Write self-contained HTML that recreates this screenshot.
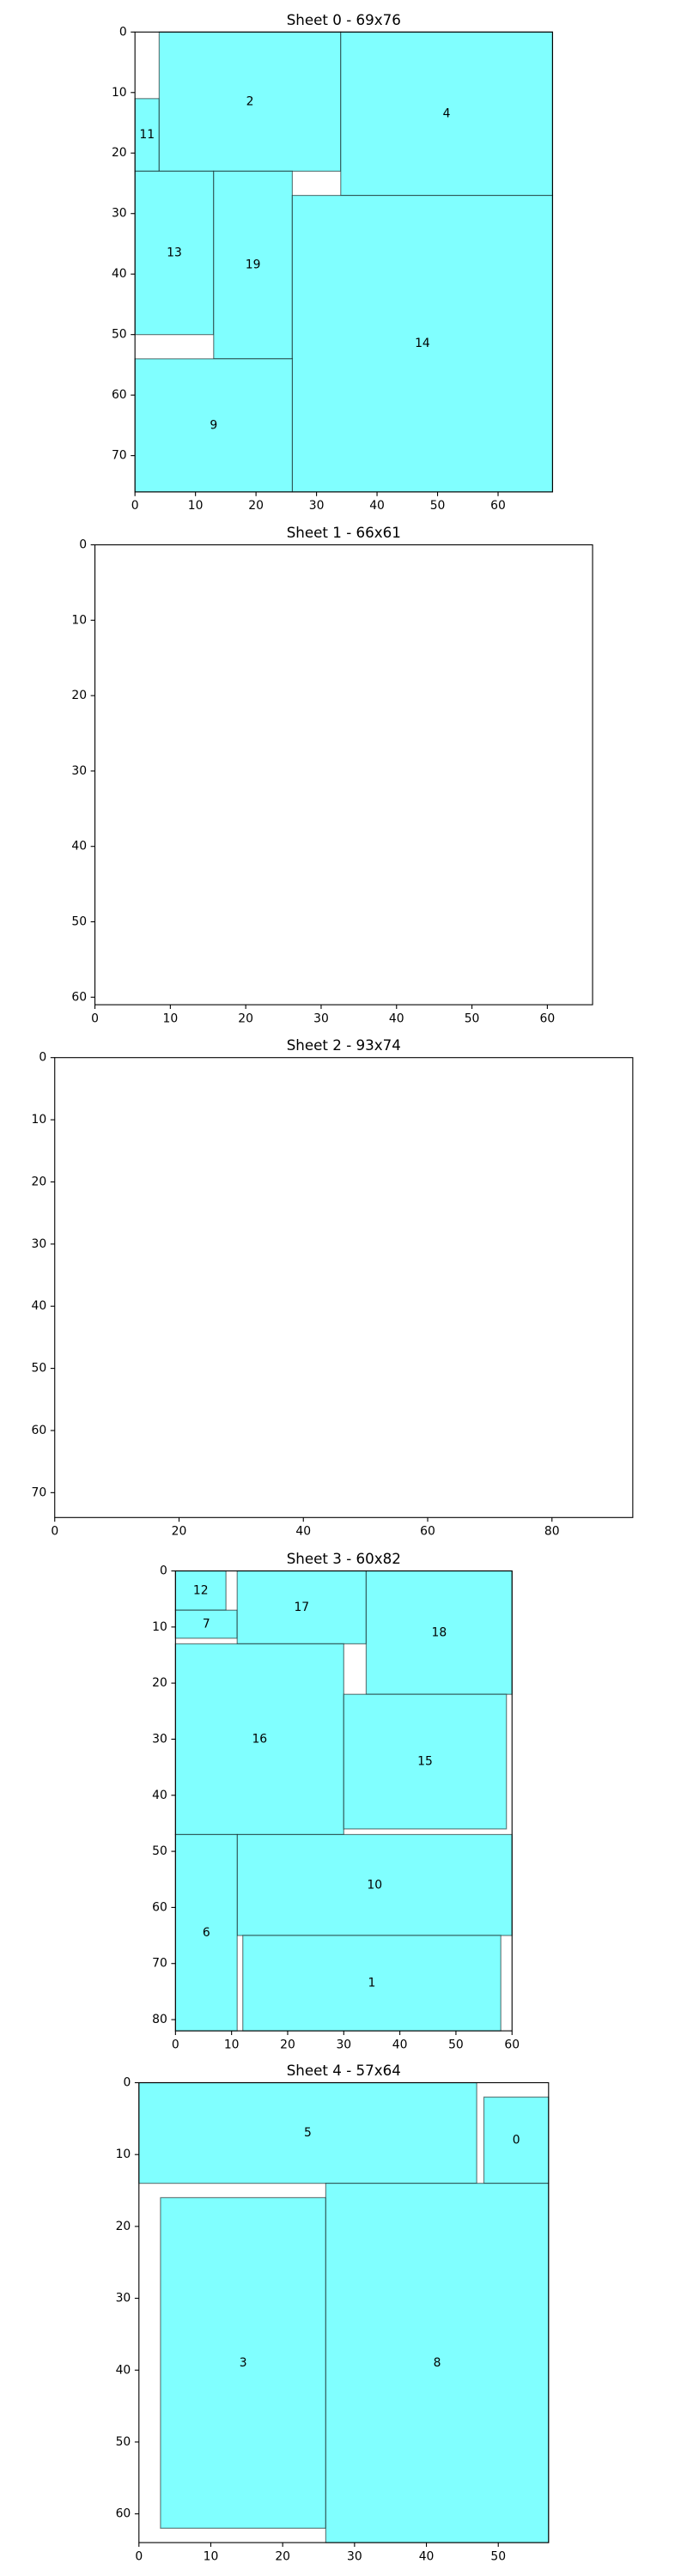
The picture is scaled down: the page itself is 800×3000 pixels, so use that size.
<!DOCTYPE html>
<html>
<head>
<meta charset="utf-8">
<style>
  html, body { margin: 0; padding: 0; background: #fff; }
  svg { display: block; }
  text { font-family: "DejaVu Sans", "Liberation Sans", sans-serif; fill: #000; }
</style>
</head>
<body>
<svg id="chart" width="800" height="3000" viewBox="0 0 800 3000" xmlns="http://www.w3.org/2000/svg"></svg>
<script>
// ---- data ----
const sheetNames = ["Sheet 0", "Sheet 1", "Sheet 2", "Sheet 3", "Sheet 4"];
const sheetWidths = [69, 66, 93, 60, 57];
const sheetHeights = [76, 61, 74, 82, 64];
const xTickStep = [10, 10, 20, 10, 10];
const yTickStep = [10, 10, 10, 10, 10];
// pieces: [id, x, y, w, h]
const sheet0Pieces = [
  [11, 0, 11, 4, 12], [2, 4, 0, 30, 23], [4, 34, 0, 35, 27],
  [13, 0, 23, 13, 27], [19, 13, 23, 13, 31], [14, 26, 27, 43, 49], [9, 0, 54, 26, 22]
];
const sheet1Pieces = [];
const sheet2Pieces = [];
const sheet3Pieces = [
  [12, 0, 0, 9, 7], [7, 0, 7, 11, 5], [17, 11, 0, 23, 13], [18, 34, 0, 26, 22],
  [16, 0, 13, 30, 34], [15, 30, 22, 29, 24], [10, 11, 47, 49, 18],
  [6, 0, 47, 11, 35], [1, 12, 65, 46, 17]
];
const sheet4Pieces = [
  [5, 0, 0, 47, 14], [0, 48, 2, 9, 12], [3, 3, 16, 23, 46], [8, 26, 14, 31, 50]
];
const allPieces = [sheet0Pieces, sheet1Pieces, sheet2Pieces, sheet3Pieces, sheet4Pieces];

// ---- layout ----
const panelTops = [37.3, 634.5, 1231.7, 1829.5, 2425.5];
const panelH = 535.6;
const centerX = 400.3;
const NS = "http://www.w3.org/2000/svg";
const svg = document.getElementById("chart");

function mk(tag, attrs, parent) {
  const e = document.createElementNS(NS, tag);
  for (const k in attrs) e.setAttribute(k, attrs[k]);
  parent.appendChild(e);
  return e;
}

sheetNames.forEach((name, i) => {
  const W = sheetWidths[i], H = sheetHeights[i];
  const s = panelH / H;
  const pw = W * s;
  const left = centerX - pw / 2;
  const top = panelTops[i];
  const xAxis = v => left + v * s;
  const yAxis = v => top + v * s;

  const g = mk("g", {}, svg);
  
  

  const title = mk("text", { x: centerX, y: top - 8.5, "text-anchor": "middle", "font-size": "16.7" }, g);
  
  
  title.textContent = name + " - " + W + "x" + H;

  allPieces[i].forEach(p => {
    const [id, x, y, w, h] = p;
    const r = mk("rect", {
      x: xAxis(x), y: yAxis(y), width: w * s, height: h * s,
      fill: "#80ffff", stroke: "rgba(0,0,0,0.5)", "stroke-width": 1.2
    }, g);
    
    
    const t = mk("text", {
      x: xAxis(x + w / 2), y: yAxis(y + h / 2), "text-anchor": "middle",
      "dominant-baseline": "central", "font-size": "13.9"
    }, g);
    
    
    t.textContent = id;
  });

  const frame = mk("rect", {
    x: left, y: top, width: pw, height: panelH,
    fill: "none", stroke: "#000", "stroke-width": 1.1
  }, g);
  
  

  const bottom = top + panelH;
  for (let v = 0; v <= W; v += xTickStep[i]) {
    const x = xAxis(v);
    const tk = mk("line", { x1: x, x2: x, y1: bottom, y2: bottom + 4.9, stroke: "#000", "stroke-width": 1.1 }, g);
    
    
    const tl = mk("text", { x: x, y: bottom + 20.3, "text-anchor": "middle", "font-size": "13.9" }, g);
    
    
    tl.textContent = v;
  }
  for (let v = 0; v <= H; v += yTickStep[i]) {
    const y = yAxis(v);
    const tk = mk("line", { x1: left - 4.9, x2: left, y1: y, y2: y, stroke: "#000", "stroke-width": 1.1 }, g);
    
    
    const tl = mk("text", { x: left - 9.5, y: y, "text-anchor": "end", "dominant-baseline": "central", "font-size": "13.9" }, g);
    
    
    tl.textContent = v;
  }
});
</script>
</body>
</html>
